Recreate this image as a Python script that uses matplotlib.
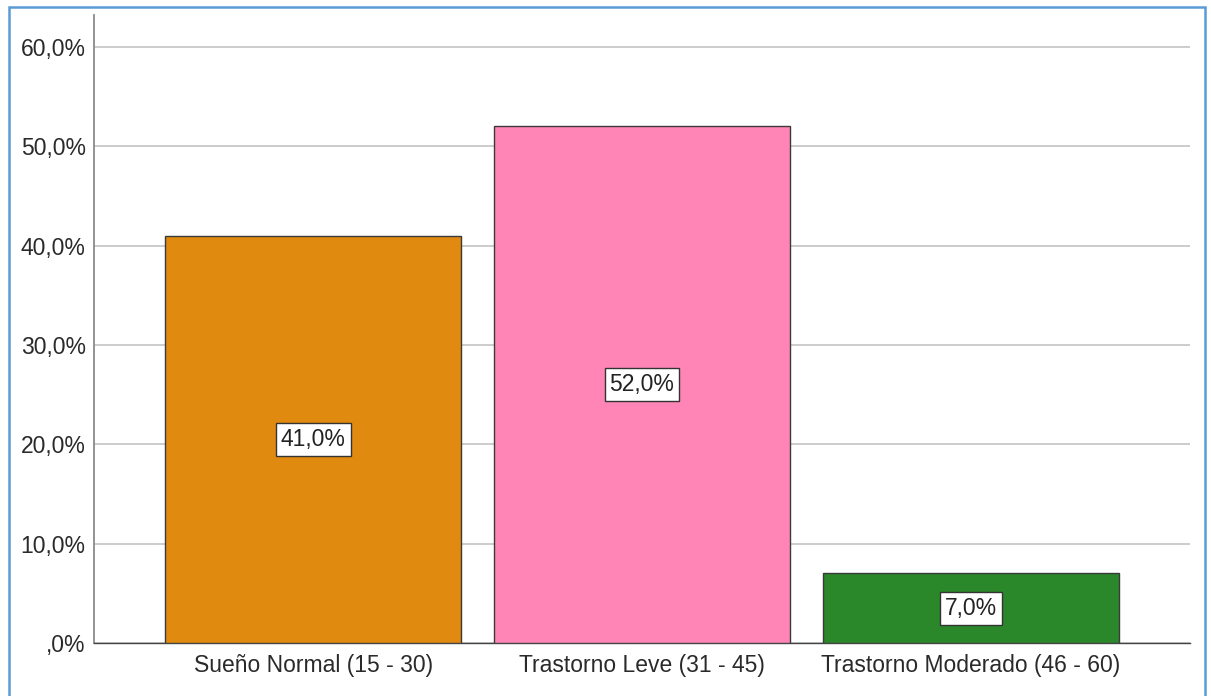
import matplotlib.pyplot as plt
from matplotlib.patches import Rectangle
from matplotlib.ticker import FuncFormatter

plt.rcParams['font.family'] = ['Liberation Sans', 'DejaVu Sans']

categories = ["Sueño Normal (15 - 30)", "Trastorno Leve (31 - 45)", "Trastorno Moderado (46 - 60)"]
percentages = [41.0, 52.0, 7.0]
bar_colors = ["#e08a10", "#ff85b6", "#2a872a"]
y_ticks = [0, 10, 20, 30, 40, 50, 60]


def pct_label(v, pos=None):
    # comma decimal, no leading zero for 0 (",0%")
    s = f"{v:.1f}".replace(".", ",")
    if s.startswith("0,"):
        s = s[1:]
    return s + "%"


fig = plt.figure(figsize=(12.11, 6.96), dpi=100)
ax = fig.add_axes([94 / 1211, 1 - 643 / 696, (1190 - 94) / 1211, (643 - 15) / 696])

x = list(range(len(categories)))
ax.bar(x, percentages, width=0.9, color=bar_colors, edgecolor="#3a3a3a", linewidth=1.0, zorder=3)

for xi, v in zip(x, percentages):
    ax.text(xi, v / 2, pct_label(v), ha="center", va="center", fontsize=16.5, color="#222222", zorder=4,
            bbox=dict(boxstyle="square,pad=0.22", facecolor="white", edgecolor="#333333", linewidth=1.0))

ax.set_xlim(-0.666, 2.666)
ax.set_ylim(0, 63.2)
ax.set_yticks(y_ticks)
ax.yaxis.set_major_formatter(FuncFormatter(pct_label))
ax.set_xticks(x)
ax.set_xticklabels(categories)
ax.tick_params(axis="both", length=0, labelsize=16.5, labelcolor="#2a2a2a")
ax.tick_params(axis="y", pad=6)
ax.tick_params(axis="x", pad=8)

ax.yaxis.grid(True, color="#c8c8c8", linewidth=1.3, zorder=0)
ax.set_axisbelow(True)
for side in ("top", "right"):
    ax.spines[side].set_visible(False)
ax.spines["left"].set_color("#8a8a8a")
ax.spines["left"].set_linewidth(1.3)
ax.spines["bottom"].set_color("#444444")
ax.spines["bottom"].set_linewidth(1.0)

# outer blue frame (open at the bottom edge)
fig.add_artist(Rectangle((9 / 1211, -0.05), (1205 - 9) / 1211, 1.05 - 7 / 696,
                         transform=fig.transFigure, fill=False, edgecolor="#5b9bd5", linewidth=1.8))

fig.savefig("out.png", dpi=100)
